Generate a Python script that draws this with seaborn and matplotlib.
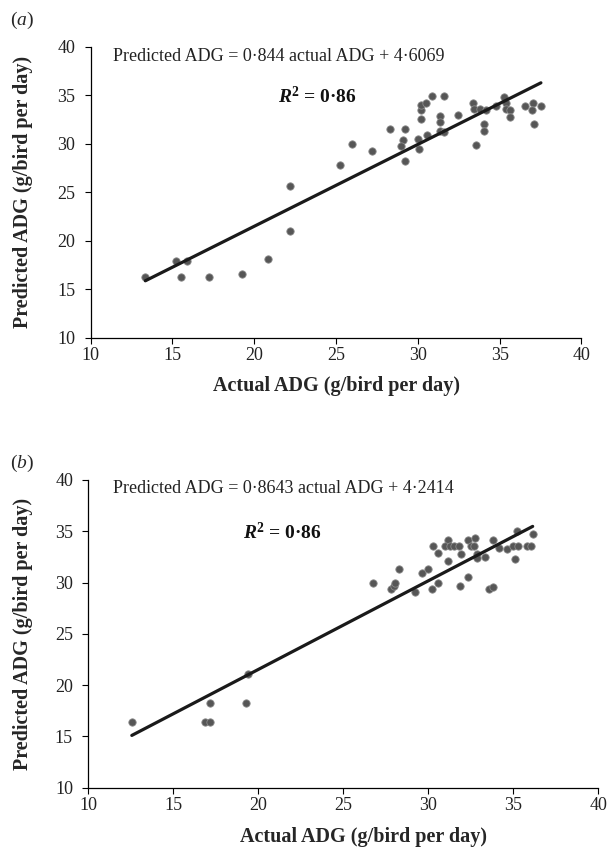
import numpy as np
import pandas as pd
import matplotlib
matplotlib.use('Agg')
import matplotlib.pyplot as plt
import seaborn as sns

# panel (a) values
a_actual = [13.34, 15.21, 15.86, 15.54, 17.25, 19.28, 20.85, 22.17, 22.17, 25.23,
            26.0, 27.18, 28.28, 29.22, 29.06, 28.97, 29.22, 29.99, 30.07, 30.56,
            30.16, 30.16, 30.16, 30.48, 30.85, 31.58, 31.38, 31.34, 31.34, 31.58,
            32.48, 33.37, 33.46, 33.54, 33.78, 34.19, 34.07, 34.07, 34.8, 35.25,
            35.41, 35.37, 35.61, 35.66, 36.55, 37.04, 36.96, 37.52, 37.12]
a_pred = [16.29, 17.94, 17.9, 16.29, 16.29, 16.57, 18.08, 21.0, 25.6, 27.8,
          29.94, 29.2, 31.55, 31.55, 30.35, 29.76, 28.25, 30.5, 29.5, 30.87,
          32.5, 33.47, 33.96, 34.2, 34.92, 34.92, 32.86, 32.24, 31.3, 31.2,
          33.0, 34.23, 33.55, 29.9, 33.55, 33.47, 32.0, 31.28, 33.92, 34.78,
          34.16, 33.55, 33.47, 32.78, 33.92, 34.23, 33.47, 33.92, 32.0]

# panel (b)
b_actual = [12.56, 16.86, 17.14, 17.14, 19.29, 19.4,
            26.73, 27.79, 28.0, 28.06, 28.29, 29.2, 29.63, 29.98, 30.22, 30.57,
            31.86, 32.34, 33.55, 33.82,
            30.29, 30.57, 31.16, 31.0, 31.28, 31.51, 31.79, 31.9, 31.16, 32.34,
            32.73, 32.49, 32.69, 32.85, 32.88, 33.32, 33.82, 34.14, 34.61, 35.0,
            35.28, 35.79, 36.06, 35.2, 36.14, 35.08]
b_pred = [16.36, 16.36, 16.36, 18.21, 18.21, 21.1,
          29.99, 29.34, 29.7, 29.99, 31.29, 29.08, 30.9, 31.29, 29.34, 29.99,
          29.66, 30.51, 29.34, 29.6,
          33.56, 32.91, 34.15, 33.56, 33.56, 33.56, 33.56, 32.78, 32.07, 34.15,
          34.34, 33.56, 33.56, 32.78, 32.39, 32.46, 34.15, 33.37, 33.24, 33.56,
          33.56, 33.56, 33.56, 35.06, 34.73, 32.27]

slopes = [0.844, 0.8643]
intercepts = [4.6069, 4.2414]
equations = ['Predicted ADG = 0\u00b7844 actual ADG + 4\u00b76069',
             'Predicted ADG = 0\u00b78643 actual ADG + 4\u00b72414']
r2_text = r'$\mathbfit{R}^{\mathbf{2}}$' + ' = 0\u00b786'
panel_tags = [r'($\mathit{a}$)', r'($\mathit{b}$)']
xlabel = 'Actual ADG (g/bird per day)'
ylabel = 'Predicted ADG (g/bird per day)'
ticks = [10, 15, 20, 25, 30, 35, 40]

sns.set_style('ticks')
plt.rcParams['font.family'] = ['Liberation Serif', 'DejaVu Serif']
plt.rcParams['mathtext.fontset'] = 'custom'
plt.rcParams['mathtext.rm'] = 'Liberation Serif'
plt.rcParams['mathtext.it'] = 'Liberation Serif:italic'
plt.rcParams['mathtext.bf'] = 'Liberation Serif:bold'
plt.rcParams['mathtext.bfit'] = 'Liberation Serif:italic:bold'

fig = plt.figure(figsize=(6.11, 8.5), dpi=100)
ax_a = fig.add_axes([0.1484, 0.6027, 0.8033, 0.3424])
ax_b = fig.add_axes([0.1445, 0.0733, 0.8347, 0.3620])

panels = [
    (ax_a, a_actual, a_pred, -0.1176, (0.5, -0.132), (0.0454, 0.9646), (0.3816, 0.828)),
    (ax_b, b_actual, b_pred, -0.1084, (0.54, -0.128), (0.0484, 0.973), (0.3033, 0.828)),
]

for i, (ax, xs, ys, ylab_x, xlab_pos, eq_pos, r2_pos) in enumerate(panels):
    df = pd.DataFrame({'actual': xs, 'pred': ys})
    sns.scatterplot(data=df, x='actual', y='pred', ax=ax, s=28,
                    color='#565656', edgecolor='#8a8a8a', linewidth=0.6, zorder=3)
    fit_x = np.array([min(xs), max(xs)])
    fit = pd.DataFrame({'x': fit_x, 'y': slopes[i] * fit_x + intercepts[i]})
    sns.lineplot(data=fit, x='x', y='y', ax=ax, color='#1a1a1a', linewidth=2.3, zorder=4)

    ax.set_xlim(10, 40)
    ax.set_ylim(10, 40)
    ax.set_xticks(ticks)
    ax.set_yticks(ticks)
    sns.despine(ax=ax)
    for sp in ['left', 'bottom']:
        ax.spines[sp].set_linewidth(0.9)
        ax.spines[sp].set_color('black')
    ax.tick_params(axis='both', direction='out', length=4, width=0.8,
                   color='black', labelsize=13, labelcolor='#222222')
    ax.tick_params(axis='x', pad=3)
    ax.tick_params(axis='y', pad=7)

    ax.set_xlabel(xlabel, fontsize=14.5, fontweight='bold', va='top')
    ax.set_ylabel(ylabel, fontsize=14.5, fontweight='bold')
    ax.xaxis.set_label_coords(*xlab_pos)
    ax.yaxis.set_label_coords(ylab_x, 0.5)

    ax.text(eq_pos[0], eq_pos[1], equations[i], transform=ax.transAxes,
            fontsize=13, va='center', ha='left', color='#222222')
    ax.text(r2_pos[0], r2_pos[1], r2_text, transform=ax.transAxes,
            fontsize=14, fontweight='bold', va='center', ha='left', color='#111111')

fig.text(0.0164, 0.9765, panel_tags[0], fontsize=14, va='center', ha='left')
fig.text(0.0164, 0.4553, panel_tags[1], fontsize=14, va='center', ha='left')

fig.savefig('out.png', dpi=100)
